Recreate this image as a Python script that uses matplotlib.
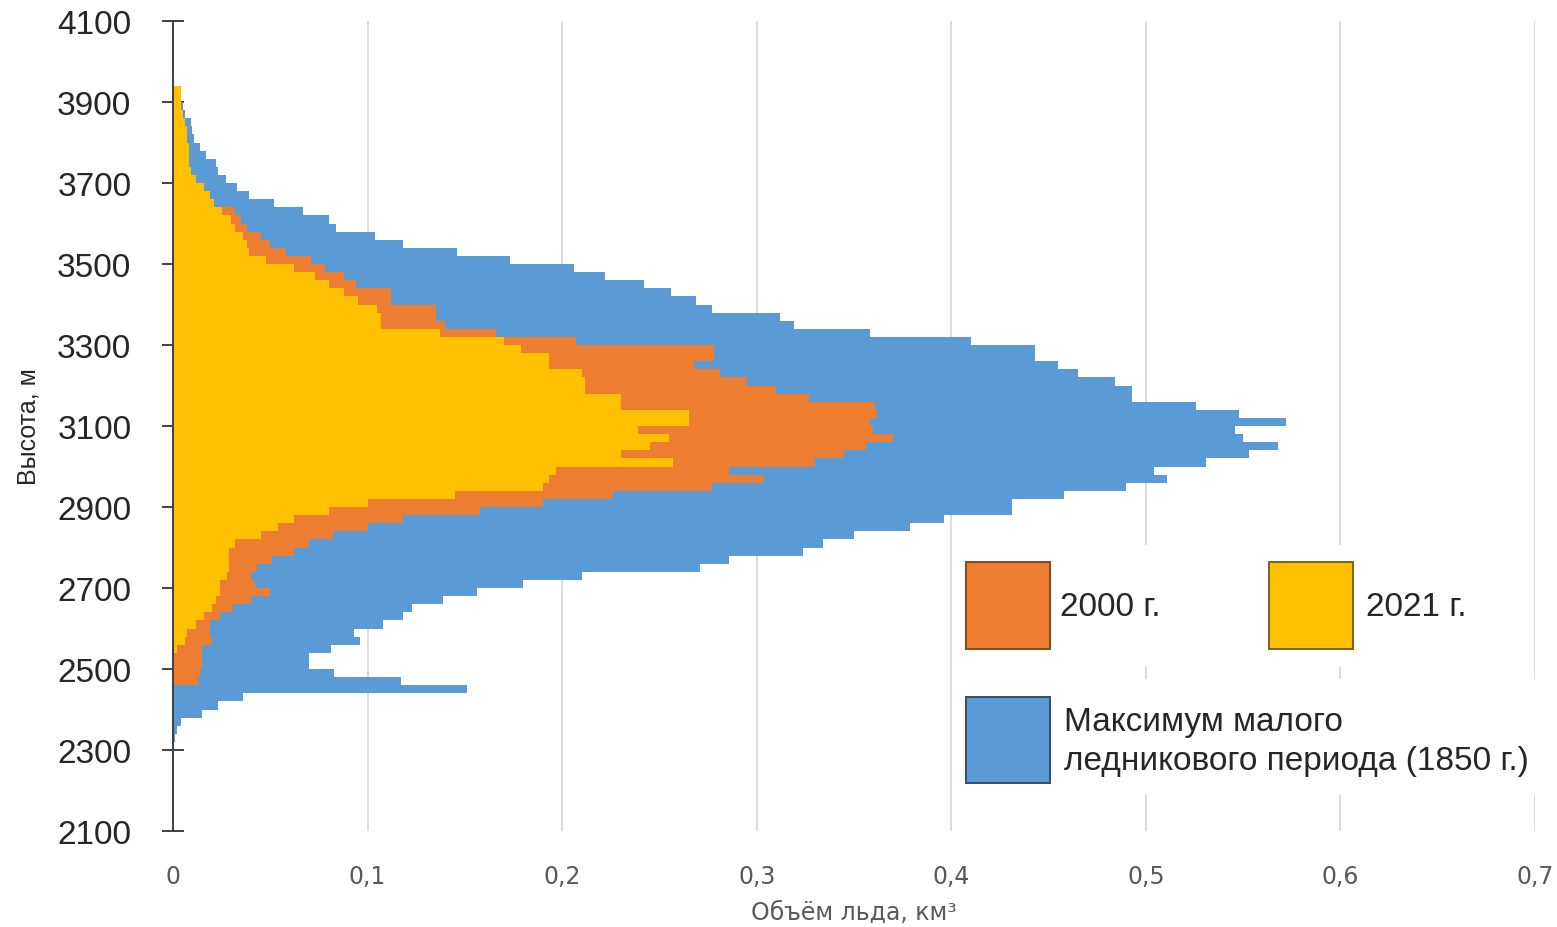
import numpy as np
import matplotlib
matplotlib.use("Agg")
import matplotlib.pyplot as plt
from matplotlib.patches import Rectangle

# ---------------- data ----------------
# elevation bins (lower edges, m), 20 m wide
bin_lower = list(range(2320, 3940, 20))
bin_width = 20

# ice volume per elevation bin, km3 (bottom -> top)
lia_1850 = [
    0.001, 0.002, 0.004, 0.015, 0.023, 0.036, 0.151, 0.117, 0.083, 0.070,   # 2320-2500
    0.070, 0.081, 0.096, 0.093, 0.108, 0.118, 0.123, 0.139, 0.156, 0.180,   # 2520-2700
    0.210, 0.271, 0.286, 0.324, 0.334, 0.350, 0.379, 0.396, 0.431, 0.431,   # 2720-2900
    0.458, 0.490, 0.511, 0.504, 0.531, 0.553, 0.568, 0.550, 0.546, 0.572,   # 2920-3100
    0.548, 0.526, 0.493, 0.493, 0.484, 0.465, 0.455, 0.443, 0.443, 0.410,   # 3120-3300
    0.358, 0.319, 0.312, 0.277, 0.269, 0.256, 0.242, 0.222, 0.206, 0.173,   # 3320-3500
    0.146, 0.118, 0.104, 0.084, 0.080, 0.067, 0.052, 0.039, 0.033, 0.027,   # 3520-3700
    0.023, 0.022, 0.017, 0.014, 0.011, 0.010, 0.009, 0.006, 0.005, 0.004,   # 3720-3900
    0.002,                                                                  # 3920
]
vol_2000 = [
    0.000, 0.000, 0.000, 0.000, 0.000, 0.000, 0.000, 0.013, 0.014, 0.015,
    0.015, 0.015, 0.020, 0.019, 0.019, 0.024, 0.031, 0.040, 0.050, 0.042,
    0.040, 0.043, 0.051, 0.062, 0.070, 0.082, 0.100, 0.118, 0.158, 0.190,
    0.226, 0.277, 0.304, 0.286, 0.330, 0.345, 0.356, 0.370, 0.360, 0.358,
    0.362, 0.361, 0.327, 0.310, 0.295, 0.281, 0.268, 0.278, 0.278, 0.207,
    0.166, 0.140, 0.135, 0.135, 0.112, 0.112, 0.094, 0.088, 0.078, 0.071,
    0.058, 0.050, 0.045, 0.038, 0.035, 0.032, 0.021, 0.019, 0.016, 0.012,
    0.009, 0.008, 0.008, 0.008, 0.007, 0.007, 0.006, 0.005, 0.004, 0.004,
    0.004,
]
vol_2021 = [
    0.000, 0.000, 0.000, 0.000, 0.000, 0.000, 0.000, 0.000, 0.000, 0.000,
    0.000, 0.002, 0.006, 0.007, 0.012, 0.016, 0.020, 0.022, 0.024, 0.024,
    0.028, 0.029, 0.029, 0.029, 0.032, 0.045, 0.054, 0.062, 0.080, 0.100,
    0.145, 0.190, 0.193, 0.197, 0.257, 0.230, 0.245, 0.255, 0.239, 0.265,
    0.265, 0.230, 0.230, 0.212, 0.212, 0.210, 0.193, 0.193, 0.179, 0.170,
    0.137, 0.107, 0.107, 0.105, 0.095, 0.088, 0.080, 0.073, 0.062, 0.048,
    0.039, 0.038, 0.036, 0.032, 0.030, 0.025, 0.021, 0.019, 0.016, 0.012,
    0.009, 0.008, 0.008, 0.008, 0.007, 0.007, 0.006, 0.005, 0.004, 0.004,
    0.004,
]

y_ticks = [2100, 2300, 2500, 2700, 2900, 3100, 3300, 3500, 3700, 3900, 4100]
x_ticks = [0, 0.1, 0.2, 0.3, 0.4, 0.5, 0.6, 0.7]
x_tick_labels = ["0", "0,1", "0,2", "0,3", "0,4", "0,5", "0,6", "0,7"]

label_2000 = "2000 г."
label_2021 = "2021 г."
label_1850 = "Максимум малого\nледникового периода (1850 г.)"
x_title = "Объём льда, км³"
y_title = "Высота, м"

# ---------------- style ----------------
C_BLUE = "#5B9BD5"
C_ORANGE = "#ED7D31"
C_YELLOW = "#FFC000"
plt.rcParams["font.family"] = ["Liberation Sans", "DejaVu Sans"]

W, H = 1557, 928
fig = plt.figure(figsize=(W / 100, H / 100), dpi=100)
ax_l, ax_r, ax_t, ax_b = 173, 1535, 22, 832
ax = fig.add_axes([ax_l / W, 1 - ax_b / H, (ax_r - ax_l) / W, (ax_b - ax_t) / H])

edges = np.array(bin_lower + [bin_lower[-1] + bin_width])
for vals, col in ((lia_1850, C_BLUE), (vol_2000, C_ORANGE), (vol_2021, C_YELLOW)):
    ax.stairs(vals, edges, orientation="horizontal", baseline=0, fill=True,
              color=col, linewidth=0, zorder=2)

ax.set_xlim(0, 0.7)
ax.set_ylim(2100, 4100)
ax.set_yticks(y_ticks)
ax.set_xticks(x_ticks)
ax.set_xticklabels(x_tick_labels, family=["DejaVu Sans"], fontsize=17, color="#595959")
ax.tick_params(axis="x", length=0, pad=24)
ax.tick_params(axis="y", direction="inout", length=16, width=1.4, color="#404040",
               labelsize=24, labelcolor="#262626", pad=22)

ax.grid(axis="x", color="#D9D9D9", linewidth=1.3, zorder=0)
ax.grid(axis="y", visible=False)
ax.set_axisbelow(True)
for s in ("top", "right", "bottom"):
    ax.spines[s].set_visible(False)
ax.spines["left"].set_color("#404040")
ax.spines["left"].set_linewidth(1.4)
ax.spines["left"].set_zorder(3)

ax.set_xlabel(x_title, family=["DejaVu Sans"], fontsize=17, color="#595959", labelpad=8)
ax.set_ylabel(y_title, fontsize=18, color="#262626", labelpad=12)


# ---------------- legend (manual, pixel layout) ----------------
def px2ax(px, py):
    return ((px - ax_l) / (ax_r - ax_l), (ax_b - py) / (ax_b - ax_t))


def box(x0, y0, x1, y1, fc, ec, lw, z):
    (ax0, ay1), (ax1, ay0) = px2ax(x0, y0), px2ax(x1, y1)
    ax.add_patch(Rectangle((ax0, ay0), ax1 - ax0, ay1 - ay0, transform=ax.transAxes,
                           facecolor=fc, edgecolor=ec, linewidth=lw, zorder=z,
                           clip_on=False))


# white backgrounds
box(955, 546, 1528, 668, "white", "none", 0, 1)
box(955, 680, 1548, 796, "white", "none", 0, 1)
# handles
box(966, 563, 1050, 650, C_ORANGE, "#7F4A24", 1.4, 4)
box(1269, 563, 1353, 650, C_YELLOW, "#7A6320", 1.4, 4)
box(966, 698, 1050, 784, C_BLUE, "#2F4F6F", 1.4, 4)
for (px, py, txt) in ((1060, 607, label_2000), (1366, 607, label_2021)):
    tx, ty = px2ax(px, py)
    ax.text(tx, ty, txt, transform=ax.transAxes, fontsize=24, color="#262626",
            va="center", ha="left", zorder=5)
tx, ty = px2ax(1064, 742)
ax.text(tx, ty, label_1850, transform=ax.transAxes, fontsize=24, color="#262626",
        va="center", ha="left", linespacing=1.3, zorder=5)

fig.savefig("out.png", dpi=100, facecolor="white")
